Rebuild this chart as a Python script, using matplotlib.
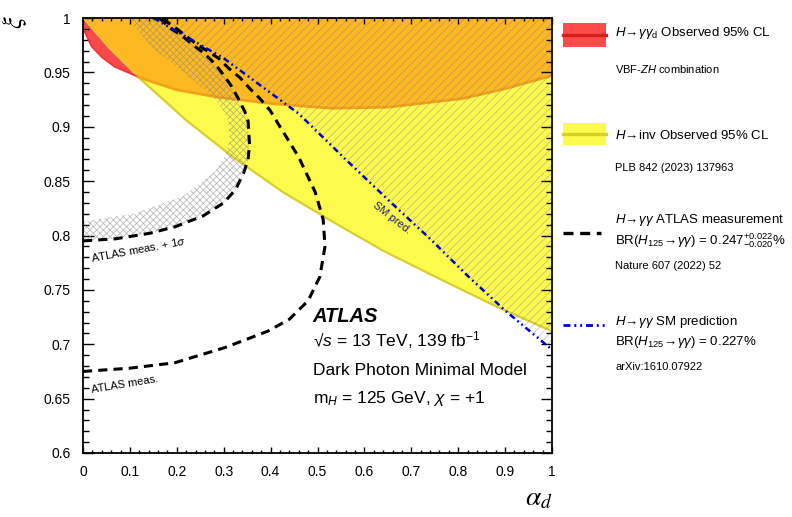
import matplotlib
matplotlib.use('Agg')
import matplotlib.pyplot as plt
from matplotlib.patches import Rectangle, Polygon
from matplotlib.lines import Line2D
from matplotlib.ticker import MultipleLocator

plt.rcParams['font.family'] = ['Liberation Sans', 'DejaVu Sans']
plt.rcParams['mathtext.fontset'] = 'custom'
plt.rcParams['mathtext.rm'] = 'Liberation Sans'
plt.rcParams['mathtext.it'] = 'Liberation Sans:italic'
plt.rcParams['mathtext.bf'] = 'Liberation Sans:bold'
plt.rcParams['hatch.linewidth'] = 0.55

# ---------------- data ----------------
# H -> gamma gamma_d observed 95% CL lower boundary (red)
red_alpha = [0.0, 0.005, 0.018, 0.04, 0.068, 0.117, 0.15, 0.2, 0.29, 0.41, 0.53, 0.65, 0.81, 0.9, 1.0]
red_xi    = [0.990, 0.986, 0.974, 0.964, 0.955, 0.946, 0.941, 0.934, 0.927, 0.921, 0.917, 0.918, 0.926, 0.935, 0.947]
# H -> inv observed 95% CL lower boundary (yellow)
yellow_alpha = [0.0, 0.054, 0.117, 0.22, 0.32, 0.426, 0.527, 0.64, 0.761, 0.88, 1.0]
yellow_xi    = [1.0, 0.973, 0.946, 0.906, 0.872, 0.840, 0.814, 0.786, 0.760, 0.735, 0.712]
intersect_alpha = 0.117
# SM prediction
sm_alpha = [0.15, 0.3, 0.46, 0.56, 0.65, 0.74, 0.82, 0.9, 1.0]
sm_xi    = [1.0, 0.963, 0.912, 0.870, 0.833, 0.797, 0.763, 0.731, 0.695]
# ATLAS meas. + 1 sigma
a_alpha = [0.0, 0.07, 0.142, 0.196, 0.256, 0.30, 0.325, 0.343, 0.352, 0.355, 0.352, 0.345, 0.331, 0.317, 0.299, 0.281, 0.257, 0.232, 0.21, 0.185, 0.163]
a_xi    = [0.795, 0.797, 0.802, 0.808, 0.818, 0.830, 0.842, 0.858, 0.870, 0.884, 0.905, 0.914, 0.926, 0.937, 0.948, 0.958, 0.968, 0.976, 0.984, 0.991, 1.0]
# ATLAS meas. (central)
b_alpha = [0.0, 0.1, 0.196, 0.303, 0.394, 0.44, 0.48, 0.505, 0.516, 0.512, 0.495, 0.46, 0.413, 0.399, 0.377, 0.356, 0.335, 0.31, 0.289, 0.267, 0.239, 0.2, 0.168]
b_xi    = [0.675, 0.678, 0.683, 0.697, 0.712, 0.723, 0.740, 0.762, 0.790, 0.815, 0.840, 0.872, 0.905, 0.915, 0.926, 0.935, 0.945, 0.954, 0.963, 0.969, 0.977, 0.990, 1.0]
# outer edge of the cross-hatched band
band_alpha = [0.0, 0.107, 0.213, 0.284, 0.305, 0.313, 0.31, 0.299, 0.285, 0.264, 0.221, 0.149, 0.095]
band_xi    = [0.813, 0.820, 0.836, 0.860, 0.875, 0.890, 0.905, 0.915, 0.923, 0.932, 0.948, 0.972, 1.0]

x_ticks = [0, 0.1, 0.2, 0.3, 0.4, 0.5, 0.6, 0.7, 0.8, 0.9, 1.0]
x_ticklabels = ['0', '0.1', '0.2', '0.3', '0.4', '0.5', '0.6', '0.7', '0.8', '0.9', '1']
y_ticks = [0.6, 0.65, 0.7, 0.75, 0.8, 0.85, 0.9, 0.95, 1.0]
y_ticklabels = ['0.6', '0.65', '0.7', '0.75', '0.8', '0.85', '0.9', '0.95', '1']

RED = '#f84a4a'
YELLOW = '#fdfa4e'
ORANGE = '#fdb922'

W, H = 792, 517
fig = plt.figure(figsize=(W / 100, H / 100), dpi=100)
ax = fig.add_axes([83 / W, 1 - 453 / H, (552 - 83) / W, (453 - 18) / H])
ax.set_xlim(0, 1)
ax.set_ylim(0.6, 1)

k = red_alpha.index(intersect_alpha)
ky = yellow_alpha.index(intersect_alpha)
red_pts = list(zip(red_alpha, red_xi))
yel_pts = list(zip(yellow_alpha, yellow_xi))

red_only = red_pts[:k + 1] + yel_pts[:ky + 1][::-1]
orange = yel_pts[:ky + 1] + red_pts[k:] + [(1, 1), (0, 1)]
yellow_only = yel_pts[ky:] + red_pts[k:][::-1]

ax.add_patch(Polygon(red_only, closed=True, fc=RED, ec='none', zorder=1))
ax.add_patch(Polygon(yellow_only, closed=True, fc=YELLOW, ec='none', zorder=1))
ax.add_patch(Polygon(orange, closed=True, fc=ORANGE, ec='none', zorder=1))

# boundary lines
ax.plot(yellow_alpha[ky:], yellow_xi[ky:], color='#d8d02a', lw=1.6, zorder=2)
ax.plot(yellow_alpha[:ky + 1], yellow_xi[:ky + 1], color='#f5c83a', lw=1.0, zorder=2)
ax.plot(red_alpha[:k + 1], red_xi[:k + 1], color='#ee3535', lw=1.2, zorder=2)
ax.plot(red_alpha[k:], red_xi[k:], color='#f2a11a', lw=2.0, zorder=2)

# cross-hatched band
band_poly = list(zip(band_alpha, band_xi)) + list(zip(a_alpha, a_xi))[::-1]
ax.add_patch(Polygon(band_poly, closed=True, fc='none', ec=(0.5, 0.5, 0.5, 0.55),
                     lw=0, hatch='xxxxx', zorder=3))

# diagonal hatch right of SM prediction
sm_poly = list(zip(sm_alpha, sm_xi)) + [(1, 1)]
ax.add_patch(Polygon(sm_poly, closed=True, fc='none', ec=(0.45, 0.45, 0.65, 0.45),
                     lw=0, hatch='////', zorder=3))

# curves
dash = (0, (3, 2))
dashdot = (0, (2.5, 1.4, 0.7, 1.4, 0.7, 1.4))
ax.plot(a_alpha, a_xi, color='k', lw=2.2, ls=dash, zorder=5)
ax.plot(b_alpha, b_xi, color='k', lw=2.2, ls=dash, zorder=5)
ax.plot(sm_alpha, sm_xi, color='#0000cc', lw=1.8, ls=dashdot, zorder=6)

# curve labels
ax.text(0.019, 0.7756, r'ATLAS meas. + 1$\sigma$', fontsize=8, rotation=10.5,
        rotation_mode='anchor', ha='left', va='baseline', zorder=7)
ax.text(0.019, 0.6552, 'ATLAS meas.', fontsize=8, rotation=9.5,
        rotation_mode='anchor', ha='left', va='baseline', zorder=7)
ax.text(0.659, 0.816, 'SM pred.', fontsize=8, rotation=-38, color='#1a1a80',
        rotation_mode='anchor', ha='center', va='center', zorder=7)

# ATLAS label block
ax.text(0.49, 0.7207, 'ATLAS', fontsize=14.5, fontweight='bold', fontstyle='italic',
        ha='left', va='baseline', zorder=7)
ax.text(0.49, 0.6978, '\u221a$s$ = 13 TeV, 139 fb$^{-1}$', fontsize=12.5,
        ha='left', va='baseline', zorder=7)
ax.text(0.49, 0.6717, 'Dark Photon Minimal Model', fontsize=12.5,
        ha='left', va='baseline', zorder=7)
ax.text(0.49, 0.646, r'm$_{H}$ = 125 GeV, $\chi$ = +1', fontsize=12.5,
        ha='left', va='baseline', zorder=7)

# axes styling
ax.set_xticks(x_ticks)
ax.set_xticklabels(x_ticklabels)
ax.set_yticks(y_ticks)
ax.set_yticklabels(y_ticklabels)
ax.xaxis.set_minor_locator(MultipleLocator(0.02))
ax.yaxis.set_minor_locator(MultipleLocator(0.01))
ax.tick_params(axis='both', which='both', direction='in', top=True, right=True,
               labelsize=10, width=1.0, color='k')
ax.tick_params(axis='x', which='major', length=4.5, pad=9)
ax.tick_params(axis='x', which='minor', length=2.5)
ax.tick_params(axis='y', which='major', length=8, pad=9)
ax.tick_params(axis='y', which='minor', length=4.5)
for s in ax.spines.values():
    s.set_linewidth(1.3)
    s.set_zorder(10)

# axis titles
fig.text(15 / W, 1 - 22 / H, r'$\xi$', fontsize=19, rotation=90, ha='center', va='center',
         math_fontfamily='stix')
fig.text(553 / W, 1 - 505 / H, r'$\alpha_{d}$', fontsize=20, ha='right', va='baseline',
         math_fontfamily='stix')

# ---------------- legend (outside axes) ----------------
def fx(px):
    return px / W

def fy(py):
    return 1 - py / H

fig.patches.append(Rectangle((fx(563), fy(47)), (606 - 563) / W, 24 / H, fc='#ff4a4a', ec='none',
                             transform=fig.transFigure, figure=fig))
fig.lines.append(Line2D([fx(563), fx(606)], [fy(35), fy(35)], color='#d41e1e', lw=2.4,
                        transform=fig.transFigure, figure=fig))
fig.patches.append(Rectangle((fx(563), fy(145)), (606 - 563) / W, 22 / H, fc='#fdfc4c', ec='none',
                             transform=fig.transFigure, figure=fig))
fig.lines.append(Line2D([fx(563), fx(606)], [fy(134), fy(134)], color='#d6d020', lw=2.4,
                        transform=fig.transFigure, figure=fig))
fig.lines.append(Line2D([fx(563), fx(601)], [fy(233), fy(233)], color='k', lw=2.4, ls=dash,
                        transform=fig.transFigure, figure=fig))
fig.lines.append(Line2D([fx(563), fx(605)], [fy(325), fy(325)], color='#0000cc', lw=2.0, ls=dashdot,
                        transform=fig.transFigure, figure=fig))

tx = fx(615)
big = 9.5
small = 8
fig.text(tx, fy(36), r'$H\!\rightarrow\!\gamma\gamma_{\mathrm{d}}$ Observed 95% CL', fontsize=big, va='baseline')
fig.text(tx, fy(72.7), r'VBF-$ZH$ combination', fontsize=small, va='baseline')
fig.text(tx, fy(139.3), r'$H\!\rightarrow\!$inv Observed 95% CL', fontsize=big, va='baseline')
fig.text(tx, fy(170.7), 'PLB 842 (2023) 137963', fontsize=small, va='baseline')
fig.text(tx, fy(223.3), r'$H\!\rightarrow\!\gamma\gamma$ ATLAS measurement', fontsize=big, va='baseline')
fig.text(tx, fy(245), r'BR($H_{125}\!\rightarrow\!\gamma\gamma$) = $0.247^{+0.022}_{-0.020}$%', fontsize=big, va='baseline')
fig.text(tx, fy(269.3), 'Nature 607 (2022) 52', fontsize=small, va='baseline')
fig.text(tx, fy(325), r'$H\!\rightarrow\!\gamma\gamma$ SM prediction', fontsize=big, va='baseline')
fig.text(tx, fy(345), r'BR($H_{125}\!\rightarrow\!\gamma\gamma$) = 0.227%', fontsize=big, va='baseline')
fig.text(tx, fy(370), 'arXiv:1610.07922', fontsize=small, va='baseline')

fig.savefig('out.png', dpi=100)
